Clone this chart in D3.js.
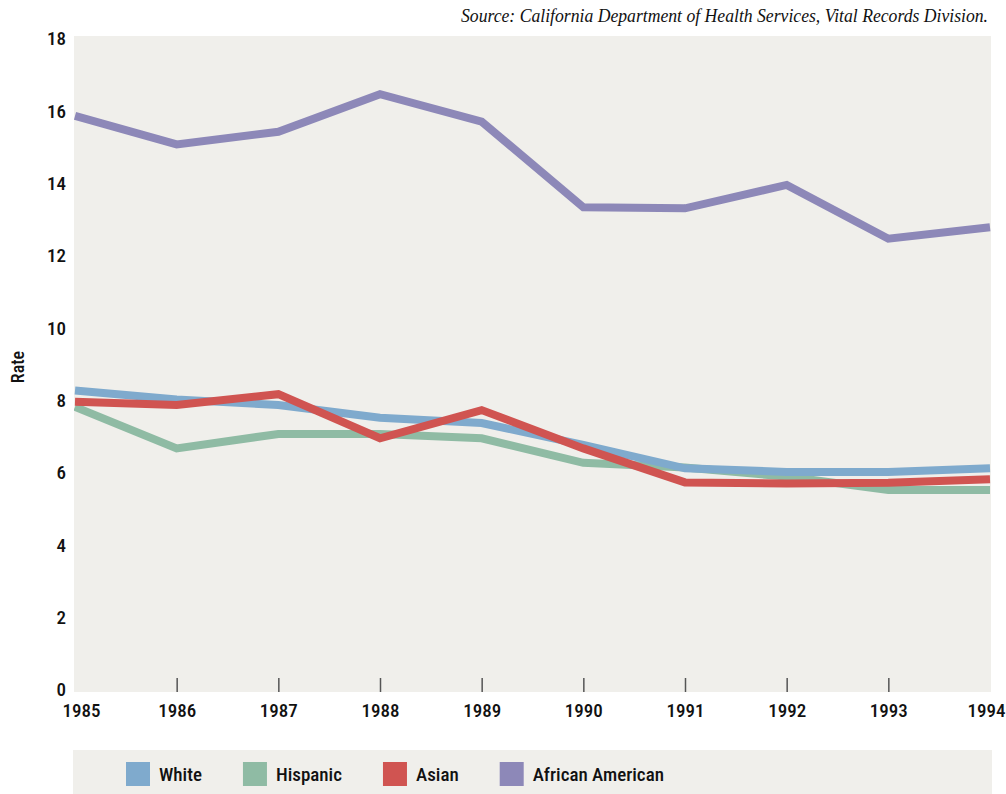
<!DOCTYPE html>
<html>
<head>
<meta charset="utf-8">
<script src="https://cdn.jsdelivr.net/npm/d3@7"></script>
<style>
  html, body { margin: 0; padding: 0; background: #ffffff; }
  svg { display: block; }
  .lbl { font-family: "Liberation Sans Narrow", "Roboto Condensed", Roboto, sans-serif; font-weight: 500; fill: #111; }
  .src { font-family: "Liberation Serif", serif; font-style: italic; fill: #111; }
</style>
</head>
<body>
<svg id="chart" width="1006" height="794"></svg>
<script>
// Rates by year and group
const years = [1985, 1986, 1987, 1988, 1989, 1990, 1991, 1992, 1993, 1994];
const white = [8.25, 8.0, 7.85, 7.5, 7.35, 6.75, 6.1, 6.0, 6.0, 6.1];
const hispanic = [7.8, 6.65, 7.05, 7.05, 6.93, 6.25, 6.12, 5.87, 5.5, 5.5];
const asian = [7.94, 7.85, 8.15, 6.93, 7.71, 6.65, 5.71, 5.68, 5.7, 5.8];
const africanAmerican = [15.85, 15.06, 15.41, 16.45, 15.69, 13.32, 13.29, 13.94, 12.45, 12.77];
const seriesNames = ["White", "Hispanic", "Asian", "African American"];
const seriesColors = ["#7faacd", "#8fbba4", "#d05451", "#8d88b8"];
const yTicks = [0, 2, 4, 6, 8, 10, 12, 14, 16, 18];
const sourceText = "Source: California Department of Health Services, Vital Records Division.";

const seriesValues = [white, hispanic, asian, africanAmerican];
const series = seriesNames.map((name, i) => ({
  name, color: seriesColors[i],
  points: years.map((yr, j) => ({ year: yr, value: seriesValues[i][j] }))
}));

const svg = d3.select("#chart");
const plot = { left: 74, right: 991, top: 36, bottom: 692 };

const x = d3.scaleLinear().domain([1985, 1994]).range([75, 990]);
const y = d3.scaleLinear().domain([0, 18]).range([688.8, 38.1]);

// plot background
svg.append("rect")
  .attr("x", plot.left).attr("y", plot.top)
  .attr("width", plot.right - plot.left).attr("height", plot.bottom - plot.top)
  .attr("fill", "#f0efeb");

// source note
svg.append("text").attr("class", "src")
  .attr("x", 988).attr("y", 22).attr("text-anchor", "end")
  .attr("textLength", 527).attr("lengthAdjust", "spacingAndGlyphs")
  .style("font-size", "18px").text(sourceText);

// y axis labels
const yAxis = d3.axisLeft(y).tickValues(yTicks).tickSize(0).tickPadding(0).tickFormat(d3.format("d"));
const gy = svg.append("g").attr("transform", "translate(66,0)").call(yAxis);
gy.select(".domain").remove();
gy.selectAll("text").attr("class", "lbl").attr("x", 0).attr("dy", "0.36em")
  .attr("font-family", null).attr("font-size", null).style("font-size", "19px");

// x axis: inner ticks rising from the bottom edge, labels below
const xAxis = d3.axisBottom(x).tickValues(years).tickSize(0).tickPadding(0).tickFormat(d3.format("d"));
const gx = svg.append("g").attr("transform", `translate(0,${plot.bottom})`).call(xAxis);
gx.select(".domain").remove();
const lastYear = years[years.length - 1];
gx.selectAll(".tick").each(function (d) {
  const t = d3.select(this);
  if (d !== years[0] && d !== lastYear) {
    t.append("line").attr("y1", 0).attr("y2", -14)
      .attr("stroke", "#555").attr("stroke-width", 1.5);
  }
  const txt = t.select("text").attr("class", "lbl").attr("y", 25).attr("dy", 0)
    .attr("font-family", null).attr("font-size", null).style("font-size", "19px");
  if (d === years[0]) txt.attr("dx", 6);
  if (d === lastYear) txt.attr("text-anchor", "end").attr("dx", 1005 - x(d));
});

// y axis title
svg.append("text").attr("class", "lbl")
  .attr("transform", "translate(23.5,367) rotate(-90)")
  .attr("text-anchor", "middle").style("font-size", "18px")
  .text("Rate");

// lines
const clip = svg.append("clipPath").attr("id", "plotClip");
clip.append("rect").attr("x", plot.left).attr("y", plot.top)
  .attr("width", plot.right - plot.left).attr("height", plot.bottom - plot.top);

const line = d3.line().x(d => x(d.year)).y(d => y(d.value));
const drawOrder = [1, 0, 2, 3];
svg.append("g").attr("clip-path", "url(#plotClip)")
  .selectAll("path").data(drawOrder.map(i => series[i])).join("path")
  .attr("d", d => line(d.points))
  .attr("fill", "none")
  .attr("stroke", d => d.color)
  .attr("stroke-width", 8)
  .attr("stroke-linejoin", "miter")
  .attr("stroke-linecap", "butt");

// legend band
svg.append("rect").attr("x", 73).attr("y", 750).attr("width", 919).attr("height", 44)
  .attr("fill", "#f0efeb");
let lx = 126;
series.forEach(s => {
  const g = svg.append("g").attr("transform", `translate(${lx},762)`);
  g.append("rect").attr("width", 24).attr("height", 24).attr("fill", s.color);
  const t = g.append("text").attr("class", "lbl").attr("x", 33).attr("y", 19)
    .style("font-size", "19px").text(s.name);
  lx += 33 + t.node().getComputedTextLength() + 41;
});
</script>
</body>
</html>
